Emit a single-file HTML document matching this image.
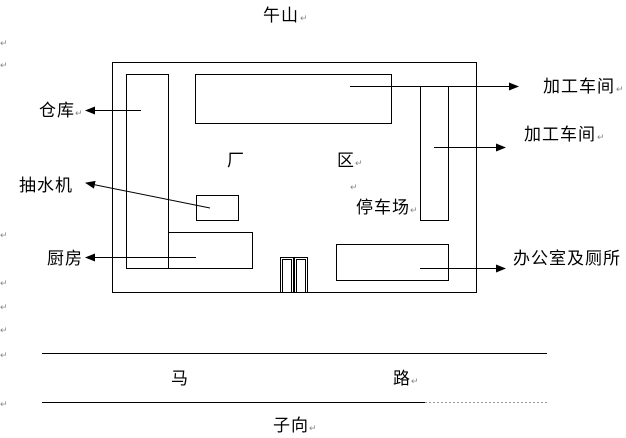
<!DOCTYPE html>
<html><head><meta charset="utf-8"><style>
html,body{margin:0;padding:0;background:#fff;width:626px;height:438px;overflow:hidden}
svg text{font-family:"Liberation Sans","Noto Sans CJK SC",sans-serif;font-size:17px;letter-spacing:1px;fill:#000}
svg text.r{font-size:9px;fill:#888;letter-spacing:0}
</style></head><body>
<svg width="626" height="438" viewBox="0 0 626 438" xmlns="http://www.w3.org/2000/svg">
<defs><marker id="a" markerWidth="10" markerHeight="8" refX="9" refY="4" orient="auto" markerUnits="userSpaceOnUse"><path d="M0,0 L10,4 L0,8 Z" fill="#000"/></marker></defs>
<g fill="none" stroke="#000" stroke-width="1">
<rect x="112.5" y="62.5" width="364" height="230"/>
<rect x="126.5" y="74.5" width="42" height="194"/>
<rect x="195.5" y="74.5" width="196" height="49"/>
<rect x="420.5" y="86.5" width="28" height="134"/>
<rect x="196.5" y="195.5" width="42" height="25"/>
<rect x="168.5" y="232.5" width="84" height="36"/>
<rect x="336.5" y="244.5" width="112" height="36"/>
<rect x="280.5" y="257.5" width="13" height="35"/>
<rect x="282.5" y="259.5" width="9" height="33"/>
<rect x="294.5" y="257.5" width="13" height="35"/>
<rect x="296.5" y="259.5" width="9" height="33"/>
<line x1="141" y1="110.5" x2="86" y2="110.5" marker-end="url(#a)"/>
<line x1="210" y1="208" x2="86" y2="183" marker-end="url(#a)"/>
<line x1="196" y1="257.5" x2="86" y2="257.5" marker-end="url(#a)"/>
<line x1="350" y1="86.5" x2="518" y2="86.5" marker-end="url(#a)"/>
<line x1="434" y1="147.5" x2="505" y2="147.5" marker-end="url(#a)"/>
<line x1="420" y1="268.5" x2="505" y2="268.5" marker-end="url(#a)"/>
<line x1="42" y1="353.5" x2="547" y2="353.5"/>
<line x1="42" y1="402.5" x2="425" y2="402.5"/>
<line x1="425" y1="402.5" x2="547" y2="402.5" stroke="#999" stroke-dasharray="2,2"/>
</g>
<text x="263" y="21">午山</text><text class="r" x="300" y="21">↵</text>
<text x="39" y="116">仓库</text><text class="r" x="75" y="116">↵</text>
<text x="19" y="191">抽水机</text>
<text x="47" y="264">厨房</text>
<text x="543" y="92">加工车间</text><text class="r" x="616" y="92">↵</text>
<text x="524" y="140">加工车间</text><text class="r" x="597" y="140">↵</text>
<text x="513" y="264">办公室及厕所</text>
<text x="227" y="166">厂</text>
<text x="337" y="166">区</text><text class="r" x="355" y="166">↵</text>
<text class="r" x="350" y="190">↵</text>
<text x="356" y="213">停车场</text><text class="r" x="410" y="213">↵</text>
<text x="171" y="384">马</text>
<text x="393" y="384">路</text><text class="r" x="411" y="384">↵</text>
<text x="273" y="431">子向</text><text class="r" x="309" y="431">↵</text>
<text class="r" x="0" y="46">↵</text><text class="r" x="0" y="68">↵</text>
<text class="r" x="0" y="238">↵</text><text class="r" x="0" y="286">↵</text>
<text class="r" x="0" y="310">↵</text><text class="r" x="0" y="333">↵</text>
<text class="r" x="0" y="358">↵</text><text class="r" x="0" y="407">↵</text>
</svg>
</body></html>
